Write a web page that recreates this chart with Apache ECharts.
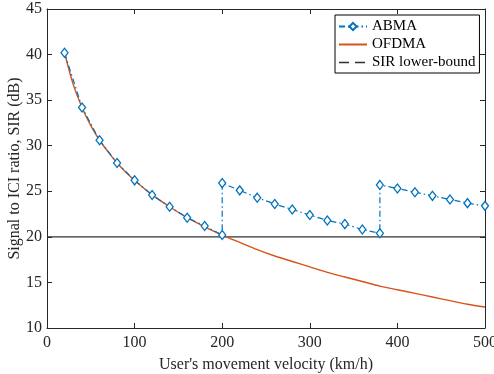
<!DOCTYPE html>
<html><head><meta charset="utf-8">
<script src="https://cdn.jsdelivr.net/npm/echarts@6/dist/echarts.min.js"></script>
<style>html,body{margin:0;padding:0;background:#fff}#c{width:494px;height:374px}</style>
</head><body><div id="c"></div>
<script>
const abmaX = [20,40,60,80,100,120,140,160,180,200,200,220,240,260,280,300,320,340,360,380,380,400,420,440,460,480,500];
const abmaY = [40.2,34.2,30.6,28.1,26.2,24.6,23.3,22.1,21.2,20.2,25.9,25.1,24.3,23.6,23.0,22.4,21.8,21.4,20.8,20.4,25.7,25.3,24.9,24.5,24.1,23.7,23.4];
const ofdmaX = [20,30,40,50,60,70,80,90,100,120,140,160,180,200,220,240,260,280,300,320,340,360,380,400,420,440,460,480,500];
const ofdmaY = [40.2,36.7,34.2,32.2,30.6,29.3,28.1,27.1,26.2,24.6,23.3,22.1,21.1,20.2,19.4,18.6,17.9,17.3,16.7,16.1,15.6,15.1,14.6,14.2,13.8,13.4,13.0,12.6,12.3];
const boundX = [0,500];
const boundY = [20,20];

const font = 'Liberation Serif';
const axisCol = '#262626';
const zip = (a,b) => a.map((v,i)=>[v,b[i]]);
const chart = echarts.init(document.getElementById('c'));
const baseX = {type:'value', min:0, max:500, interval:100,
  axisLine:{show:true, onZero:false, lineStyle:{color:axisCol, width:1}},
  axisTick:{show:true, inside:true, length:5, lineStyle:{color:axisCol}},
  splitLine:{show:false}};
const baseY = {type:'value', min:10, max:45, interval:5,
  axisLine:{show:true, onZero:false, lineStyle:{color:axisCol, width:1}},
  axisTick:{show:true, inside:true, length:5, lineStyle:{color:axisCol}},
  splitLine:{show:false}};
chart.setOption({
  animation:false,
  backgroundColor:'#fff',
  grid:{left:47, right:9, top:9, bottom:46, containLabel:false, outerBoundsMode:'none'},
  xAxis:[
    Object.assign({}, baseX, {position:'bottom',
      name:"User's movement velocity (km/h)", nameLocation:'middle', nameGap:29, nameMoveOverlap:false,
      nameTextStyle:{fontFamily:font, fontSize:16, color:axisCol},
      axisLabel:{fontFamily:font, fontSize:16, color:axisCol, margin:7}}),
    Object.assign({}, baseX, {position:'top', axisLabel:{show:false}})
  ],
  yAxis:[
    Object.assign({}, baseY, {position:'left',
      name:'Signal to ICI ratio, SIR (dB)', nameLocation:'middle', nameGap:24, nameMoveOverlap:false,
      nameTextStyle:{fontFamily:font, fontSize:16, color:axisCol},
      axisLabel:{fontFamily:font, fontSize:16, color:axisCol, margin:5}}),
    Object.assign({}, baseY, {position:'right', axisLabel:{show:false}})
  ],
  legend:{
    orient:'vertical', left:335, top:15,
    backgroundColor:'#fff', borderColor:'#000', borderWidth:1, borderRadius:0,
    padding:[4,4,3,3], itemGap:3, itemWidth:28, itemHeight:9,
    textStyle:{fontFamily:font, fontSize:15, color:'#000', lineHeight:15},
    data:[
      {name:'ABMA'},
      {name:'OFDMA', itemStyle:{opacity:0}},
      {name:'SIR lower-bound', itemStyle:{opacity:0}, lineStyle:{type:[10,6], color:'#333', width:1.3}}
    ]
  },
  series:[
    {name:'ABMA', type:'line', data:zip(abmaX,abmaY), symbol:'diamond', symbolSize:[7,9],
      showAllSymbol:true, z:3,
      lineStyle:{color:'#0072BD', width:1.2, type:[6,3,1.5,3]},
      itemStyle:{color:'#fff', borderColor:'#0072BD', borderWidth:1.3}},
    {name:'OFDMA', type:'line', data:zip(ofdmaX,ofdmaY), symbol:'none', smooth:0.3, z:2,
      lineStyle:{color:'#D95319', width:1.4}, itemStyle:{color:'#D95319'}},
    {name:'SIR lower-bound', type:'line', data:zip(boundX,boundY), symbol:'none', z:1,
      lineStyle:{color:'#333', width:1.4}, itemStyle:{color:'#333'}}
  ]
});
</script></body></html>
